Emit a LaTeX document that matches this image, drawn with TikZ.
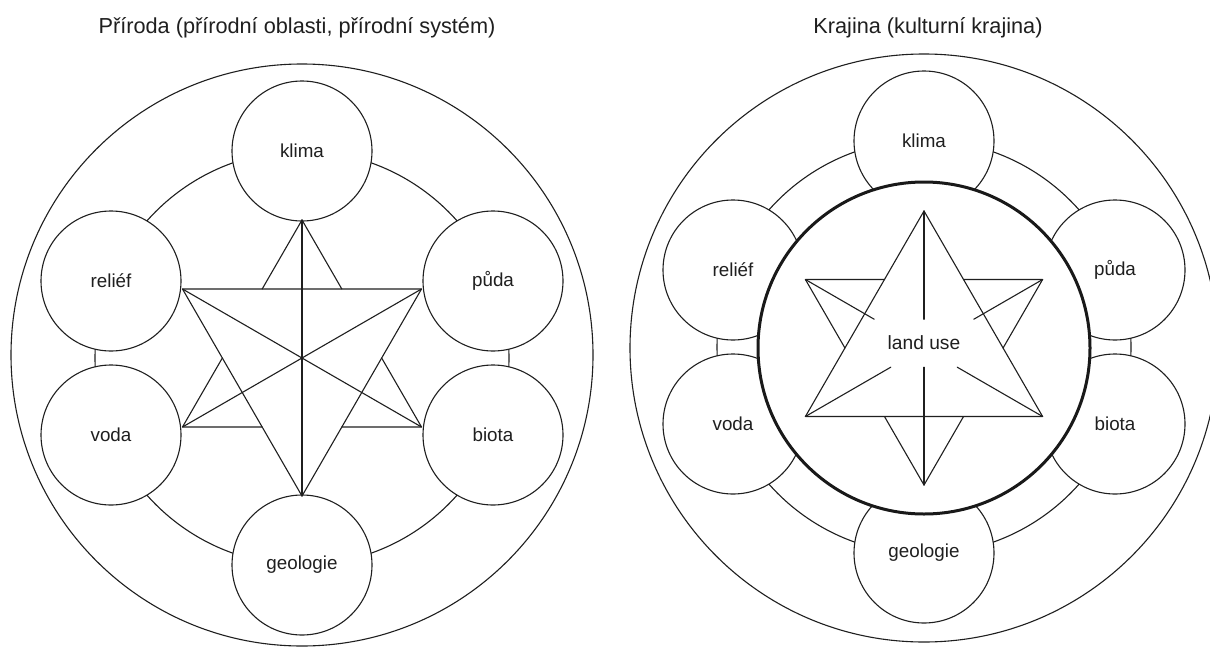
\documentclass[tikz,border=0pt]{standalone}
\usepackage{fontspec}
\setmainfont{Liberation Sans}
\usetikzlibrary{calc}
\begin{document}
\begin{tikzpicture}[x=1pt,y=-1pt,
  ln/.style={line width=1.1pt, draw=black!88, line cap=round, line join=round},
  bubble/.style={circle, draw=black!88, fill=white, line width=1.1pt,
    minimum size=140pt, inner sep=0pt, text=black!88,
    font=\fontsize{18.8}{22}\selectfont},
  core/.style={circle, draw=black!90, fill=white, line width=3pt,
    minimum size=332pt, inner sep=0pt},
  ttl/.style={anchor=base, inner sep=0pt, text=black!88,
    font=\fontsize{21.7}{26}\selectfont},
  lbl/.style={inner sep=0pt, text=black!88, font=\fontsize{19.2}{22}\selectfont}]
\useasboundingbox (0,0) rectangle (1210,648);
\clip (0,0) rectangle (1210,648);
\fill[white] (0,0) rectangle (1210,648);

% ---------- titles ----------
\node[ttl] (t1) at (297,33) {Příroda (přírodní oblasti, přírodní systém)};
\node[ttl] (t2) at (928,33) {Krajina (kulturní krajina)};

% ---------- natural system ----------
\coordinate (lC) at (302,358);
\draw[ln] (302,355) circle[radius=291pt];
\draw[ln] (lC) circle[radius=207pt];
\node[bubble] (lklima) at (302,151) {klima};
\node[bubble] (lgeo)   at (302,565) {geologie};
\node[bubble] (lrel)   at (111,281) {reliéf};
\node[bubble] (lvoda)  at (111,435) {voda};
\node[bubble] (lpuda)  at (493,281) {půda};
\node[bubble] (lbio)   at (493,435) {biota};

\coordinate (lT)  at (302,220);
\coordinate (lB)  at (302,496);
\coordinate (lUL) at (182.5,289);
\coordinate (lUR) at (421.5,289);
\coordinate (lLL) at (182.5,427);
\coordinate (lLR) at (421.5,427);
% downward triangle in front
\draw[ln] (lUL) -- (lUR) -- (lB) -- cycle;
% upward triangle behind, hidden parts left out
\draw[ln] (lT) -- ($(lT)!1/3!(lLL)$);
\draw[ln] ($(lT)!2/3!(lLL)$) -- (lLL) -- ($(lLL)!1/3!(lLR)$);
\draw[ln] ($(lLL)!2/3!(lLR)$) -- (lLR) -- ($(lLR)!1/3!(lT)$);
\draw[ln] ($(lLR)!2/3!(lT)$) -- (lT);
% spokes through the centre
\draw[ln] (lT) -- (lB);
\draw[ln] (lUL) -- (lLR);
\draw[ln] (lUR) -- (lLL);

% ---------- cultural landscape ----------
\coordinate (rC) at (924,348);
\draw[ln] (924,348) circle[radius=294pt];
\draw[ln] (924,347) circle[radius=207pt];
\node[bubble] (rklima) at (924,141) {klima};
\node[bubble] (rgeo)   at (924,553) {geologie};
\node[bubble] (rrel)   at (733,270) {reliéf};
\node[bubble] (rvoda)  at (733,424) {voda};
\node[bubble] (rpuda)  at (1115,270) {půda};
\node[bubble] (rbio)   at (1115,424) {biota};
\node[core] (rcore) at (924,348) {};

\coordinate (rT)  at (924,211);
\coordinate (rB)  at (924,485);
\coordinate (rUL) at (805.4,279.5);
\coordinate (rUR) at (1042.6,279.5);
\coordinate (rLL) at (805.4,416.5);
\coordinate (rLR) at (1042.6,416.5);
% upward triangle in front
\draw[ln] (rT) -- (rLL) -- (rLR) -- cycle;
% downward triangle behind
\draw[ln] (rUL) -- ($(rUL)!1/3!(rUR)$);
\draw[ln] ($(rUL)!2/3!(rUR)$) -- (rUR) -- ($(rUR)!1/3!(rB)$);
\draw[ln] ($(rUR)!2/3!(rB)$) -- (rB) -- ($(rB)!1/3!(rUL)$);
\draw[ln] ($(rB)!2/3!(rUL)$) -- (rUL);
% spokes stopping short of the label
\draw[ln] (rT)  -- ($(rT)!0.79!(rC)$);
\draw[ln] (rB)  -- ($(rB)!0.86!(rC)$);
\draw[ln] (rUL) -- ($(rUL)!0.58!(rC)$);
\draw[ln] (rUR) -- ($(rUR)!0.58!(rC)$);
\draw[ln] (rLL) -- ($(rLL)!0.72!(rC)$);
\draw[ln] (rLR) -- ($(rLR)!0.72!(rC)$);
\node[lbl] (landuse) at (924,343) {land use};
\end{tikzpicture}
\end{document}
